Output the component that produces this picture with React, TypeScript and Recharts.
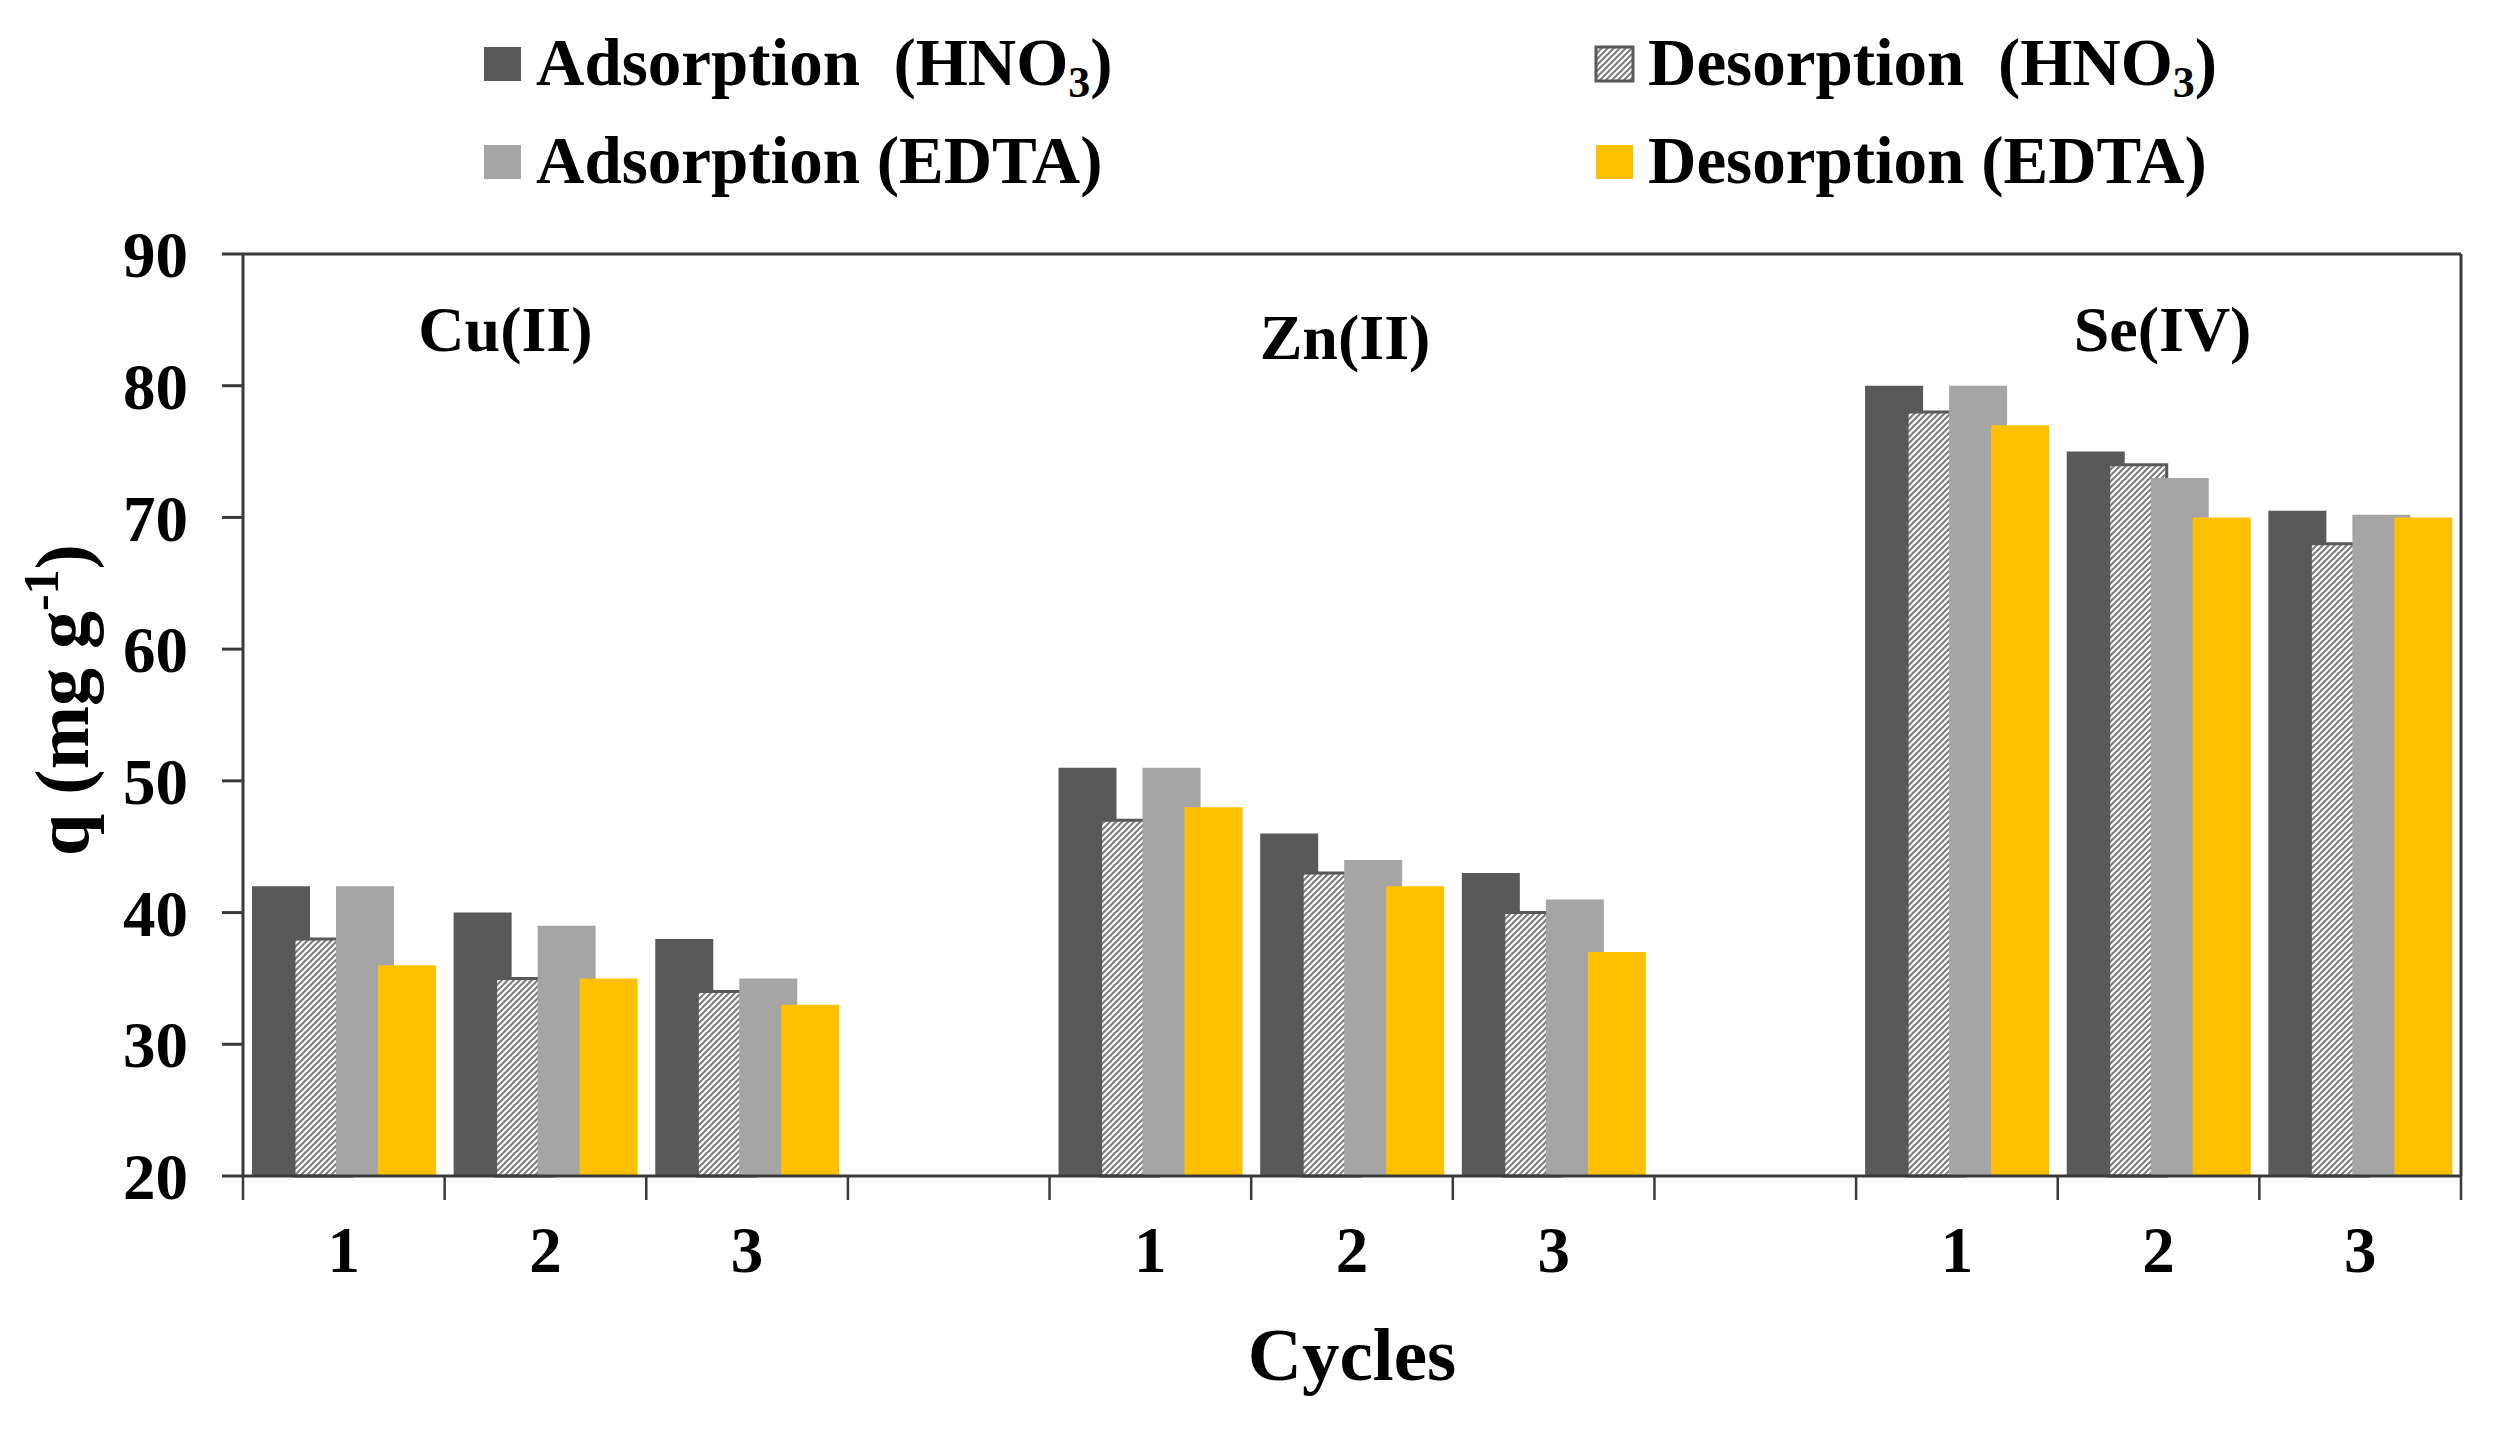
import React from 'react';
import { BarChart, Bar, XAxis, YAxis, Legend, ReferenceLine, ReferenceDot } from 'recharts';

// ---------- data ----------
const categoryKeys = ['Cu1', 'Cu2', 'Cu3', 'gapA', 'Zn1', 'Zn2', 'Zn3', 'gapB', 'Se1', 'Se2', 'Se3'];
const cycleLabels = ['1', '2', '3', '', '1', '2', '3', '', '1', '2', '3'];
const adsorptionHNO3 = [42, 40, 38, null, 51, 46, 43, null, 80, 75, 70.5];
const desorptionHNO3 = [38, 35, 34, null, 47, 43, 40, null, 78, 74, 68];
const adsorptionEDTA = [42, 39, 35, null, 51, 44, 41, null, 80, 73, 70.2];
const desorptionEDTA = [36, 35, 33, null, 48, 42, 37, null, 77, 70, 70];
const yTicks = [20, 30, 40, 50, 60, 70, 80, 90];
const groupNames = ['Cu(II)', 'Zn(II)', 'Se(IV)'];
const groupAnchorKeys = ['Cu2', 'Zn2', 'Se2'];
const groupLabelY = [82.6, 82.0, 82.6];
const groupLabelDx = [-40, -7, 4];

const series = [
  { key: 'adsHNO3', values: adsorptionHNO3, label: 'Adsorption\u00a0\u00a0(HNO', sub: '3', tail: ')', fill: '#595959' },
  { key: 'desHNO3', values: desorptionHNO3, label: 'Desorption\u00a0\u00a0(HNO', sub: '3', tail: ')', fill: 'url(#hatch)' },
  { key: 'adsEDTA', values: adsorptionEDTA, label: 'Adsorption (EDTA)', sub: '', tail: '', fill: '#a5a5a5' },
  { key: 'desEDTA', values: desorptionEDTA, label: 'Desorption (EDTA)', sub: '', tail: '', fill: '#ffc000' },
];

const data = categoryKeys.map((k, i) => {
  const row: any = { key: k };
  series.forEach((s) => { row[s.key] = s.values[i]; });
  return row;
});

// ---------- layout ----------
const W = 2494;
const H = 1429;
const LEGEND_H = 220;
const MARGIN = { top: 254 - LEGEND_H, right: 32, bottom: 0, left: 0 };
const YAXIS_W = 243;
const XAXIS_H = 1429 - 1176;
const RIGHT_AXIS_W = 1;
const PLOT_W = W - MARGIN.left - MARGIN.right - YAXIS_W - RIGHT_AXIS_W;
const BAND = PLOT_W / categoryKeys.length;
const FONT = '"Liberation Serif", "Times New Roman", serif';
const AXIS_COLOR = '#3a3a3a';

const XTick = (props: any) => {
  const { x, y, payload, index } = props;
  const idx = payload && payload.index != null ? payload.index : index;
  const last = idx === categoryKeys.length - 1;
  return (
    <g>
      <line x1={x - BAND / 2} x2={x - BAND / 2} y1={y} y2={y + 24} stroke={AXIS_COLOR} strokeWidth={2.5} />
      {last && <line x1={x + BAND / 2} x2={x + BAND / 2} y1={y} y2={y + 24} stroke={AXIS_COLOR} strokeWidth={2.5} />}
      <text x={x} y={y + 96} textAnchor="middle" fontFamily={FONT} fontWeight="bold" fontSize={65} fill="#000">
        {cycleLabels[idx]}
      </text>
    </g>
  );
};

const XTitle = (props: any) => {
  const vb = props.viewBox || {};
  return (
    <text x={vb.x + vb.width / 2} y={vb.y + 204} textAnchor="middle" fontFamily={FONT} fontWeight="bold" fontSize={75} fill="#000">
      Cycles
    </text>
  );
};

const YTitle = (props: any) => {
  const vb = props.viewBox || {};
  const cx = vb.x + 88;
  const cy = vb.y + vb.height / 2 - 15;
  return (
    <text transform={`translate(${cx},${cy}) rotate(-90)`} x={0} y={0} textAnchor="middle" fontFamily={FONT} fontWeight="bold" fontSize={76} fill="#000">
      q (mg g<tspan fontSize={50} dy={-30}>-1</tspan><tspan dy={30}>)</tspan>
    </text>
  );
};

const makeGroupLabel = (i: number) => (props: any) => {
  const vb = props.viewBox || {};
  const cx = vb.x + (vb.width || 0) / 2;
  const cy = vb.y + (vb.height || 0) / 2;
  return (
    <text x={cx + groupLabelDx[i]} y={cy} textAnchor="middle" fontFamily={FONT} fontWeight="bold" fontSize={64} fill="#000">
      {groupNames[i]}
    </text>
  );
};

const LEGEND_COL_X = [484, 1596];
const LEGEND_ROW_Y = [47, 145];

const renderLegend = () => (
  <svg width={W} height={LEGEND_H} style={{ display: 'block' }}>
    <defs>
      <pattern id="hatchLegend" patternUnits="userSpaceOnUse" width={6} height={6}>
        <rect width={6} height={6} fill="#fff" />
        <path d="M-1.5,1.5 L1.5,-1.5 M0,6 L6,0 M4.5,7.5 L7.5,4.5" stroke="#7f7f7f" strokeWidth={2.2} />
      </pattern>
    </defs>
    {series.map((s, i) => {
      const x = LEGEND_COL_X[i % 2];
      const y = LEGEND_ROW_Y[Math.floor(i / 2)];
      const hatched = s.fill.startsWith('url');
      return (
        <g key={s.key}>
          <rect x={x} y={y} width={37} height={34}
            fill={hatched ? 'url(#hatchLegend)' : s.fill}
            stroke={hatched ? '#595959' : 'none'} strokeWidth={hatched ? 3 : 0} />
          <text x={x + 52} y={y + 38} fontFamily={FONT} fontWeight="bold" fontSize={67} fill="#000">
            {s.label}
            {s.sub && <tspan fontSize={44} dy={12}>{s.sub}</tspan>}
            {s.tail && <tspan dy={s.sub ? -12 : 0}>{s.tail}</tspan>}
          </text>
        </g>
      );
    })}
  </svg>
);

export default function App() {
  return (
    <div style={{ width: W, height: H, background: '#fff' }}>
      <style>{'body{margin:0;background:#fff;}'}</style>
      <BarChart width={W} height={H} data={data} margin={MARGIN} barGap={-16} barCategoryGap={0}>
        <defs>
          <pattern id="hatch" patternUnits="userSpaceOnUse" width={6} height={6}>
            <rect width={6} height={6} fill="#fff" />
            <path d="M-1.5,1.5 L1.5,-1.5 M0,6 L6,0 M4.5,7.5 L7.5,4.5" stroke="#7f7f7f" strokeWidth={2.2} />
          </pattern>
        </defs>
        <Legend
          layout="vertical"
          verticalAlign="top"
          align="center"
          content={renderLegend}
          wrapperStyle={{ position: 'absolute', top: 0, left: 0, width: W, height: LEGEND_H }}
        />
        <XAxis
          dataKey="key"
          xAxisId={0}
          height={XAXIS_H}
          interval={0}
          tickLine={false}
          tickSize={0}
          tickMargin={0}
          axisLine={{ stroke: AXIS_COLOR, strokeWidth: 3 }}
          tick={<XTick />}
          label={{ content: XTitle }}
        />
        <YAxis
          yAxisId="left"
          type="number"
          domain={[20, 90]}
          ticks={yTicks}
          interval={0}
          width={YAXIS_W}
          tickSize={21}
          tickMargin={34}
          axisLine={{ stroke: AXIS_COLOR, strokeWidth: 3 }}
          tickLine={{ stroke: AXIS_COLOR, strokeWidth: 3 }}
          tick={{ fontFamily: FONT, fontWeight: 'bold', fontSize: 65, fill: '#000' }}
          label={{ content: YTitle }}
        />
        <YAxis
          yAxisId="right"
          orientation="right"
          type="number"
          domain={[20, 90]}
          width={RIGHT_AXIS_W}
          tick={false}
          tickLine={false}
          axisLine={{ stroke: AXIS_COLOR, strokeWidth: 3 }}
        />
        <ReferenceLine yAxisId="left" y={90} stroke={AXIS_COLOR} strokeWidth={3} />
        {series.map((s) => (
          <Bar
            key={s.key}
            yAxisId="left"
            dataKey={s.key}
            fill={s.fill}
            stroke={s.fill.startsWith('url') ? '#595959' : 'none'}
            strokeWidth={s.fill.startsWith('url') ? 3 : 0}
            barSize={58}
            isAnimationActive={false}
          />
        ))}
        {groupNames.map((g, i) => (
          <ReferenceDot
            key={g}
            yAxisId="left"
            x={groupAnchorKeys[i]}
            y={groupLabelY[i]}
            r={1}
            fill="none"
            stroke="none"
            label={{ content: makeGroupLabel(i) }}
          />
        ))}
      </BarChart>
    </div>
  );
}
